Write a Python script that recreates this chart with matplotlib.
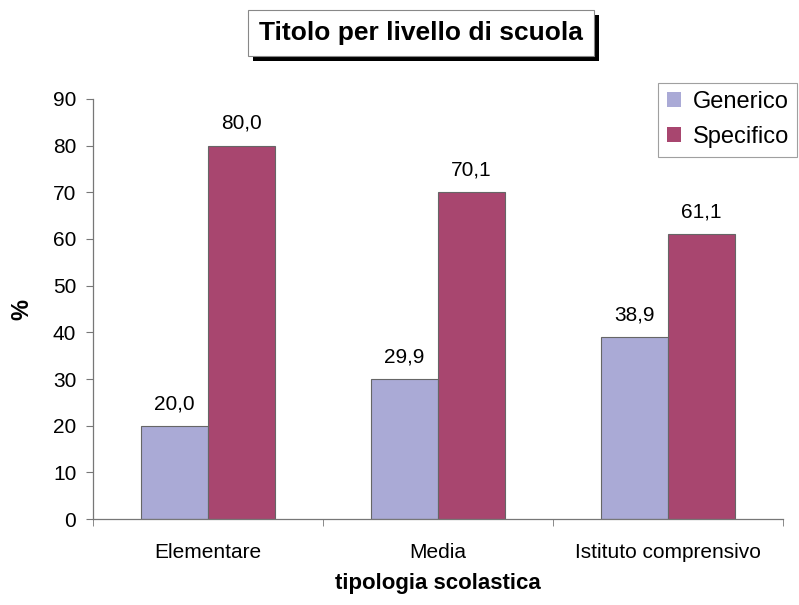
import numpy as np
import matplotlib.pyplot as plt
from matplotlib.patches import Rectangle

plt.rcParams['font.family'] = ['Liberation Sans', 'DejaVu Sans']

categorie = ['Elementare', 'Media', 'Istituto comprensivo']
generico = [20.0, 29.9, 38.9]
specifico = [80.0, 70.1, 61.1]

col_gen = '#aaaad6'
col_spec = '#a8466f'

fig = plt.figure(figsize=(7.99, 6.05), dpi=100)
ax = fig.add_axes([0.1164, 0.1421, 0.8636, 0.6943])

x = np.arange(len(categorie))
w = 0.29
b1 = ax.bar(x - w/2, generico, w, color=col_gen, edgecolor='#666666', linewidth=0.8, label='Generico')
b2 = ax.bar(x + w/2, specifico, w, color=col_spec, edgecolor='#666666', linewidth=0.8, label='Specifico')

# etichette con i valori sopra le barre
for bars, vals in ((b1, generico), (b2, specifico)):
    for r, v in zip(bars, vals):
        ax.annotate(('%.1f' % v).replace('.', ','),
                    (r.get_x() + r.get_width()/2, v),
                    xytext=(0, 12), textcoords='offset points',
                    ha='center', va='baseline', fontsize=15)

ax.set_xlim(-0.5, 2.5)
ax.set_ylim(0, 90)
ax.set_yticks(range(0, 91, 10))
ax.set_xticks(x)
ax.set_xticklabels(categorie, fontsize=15)
ax.set_xticks([-0.5, 0.5, 1.5, 2.5], minor=True)
ax.tick_params(axis='x', which='major', length=0, pad=17)
ax.tick_params(axis='x', which='minor', length=5, color='#777777')
ax.tick_params(axis='y', labelsize=15, length=5, color='#777777', pad=7)

for s in ('top', 'right'):
    ax.spines[s].set_visible(False)
for s in ('left', 'bottom'):
    ax.spines[s].set_color('#777777')
    ax.spines[s].set_linewidth(0.9)

ax.set_ylabel('%', fontsize=17, fontweight='bold', labelpad=14)
ax.set_xlabel('tipologia scolastica', fontsize=16, fontweight='bold', labelpad=8)

leg = ax.legend(loc='upper right', bbox_to_anchor=(1.0203, 1.038), fontsize=17,
                frameon=True, fancybox=False, edgecolor='#888888',
                handlelength=0.6, handleheight=0.6, handletextpad=0.5,
                borderpad=0.35, labelspacing=0.55, borderaxespad=0)
leg.get_frame().set_linewidth(0.8)
for h in leg.legend_handles:
    h.set_edgecolor('none')

# titolo in un riquadro con ombra nera
tt = fig.text(0.527, 0.945, 'Titolo per livello di scuola', ha='center', va='center',
              fontsize=19, fontweight='bold', color='black', zorder=5,
              bbox=dict(boxstyle='square,pad=0.42', facecolor='white',
                        edgecolor='#888888', linewidth=0.8))
fig.canvas.draw()
bb = tt.get_bbox_patch().get_window_extent(fig.canvas.get_renderer())
fig.add_artist(Rectangle((bb.x0 + 5, bb.y0 - 5), bb.width, bb.height,
                         transform=None, facecolor='black', edgecolor='none', zorder=4))

fig.savefig('out.png', dpi=100)
